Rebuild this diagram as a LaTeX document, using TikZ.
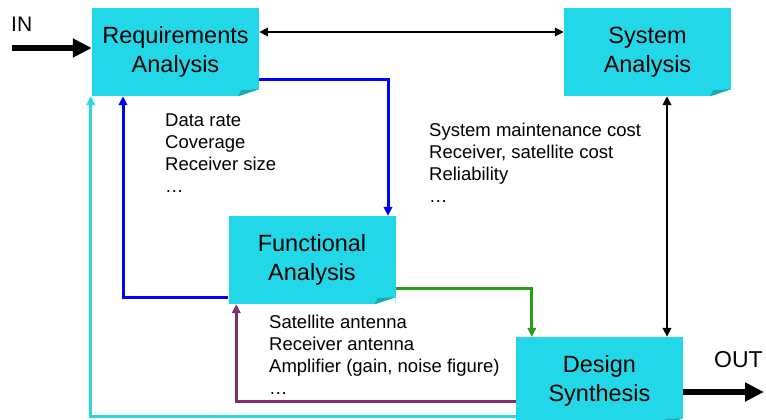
\documentclass[tikz,border=0pt]{standalone}
\usepackage{fontspec}
\setmainfont{Liberation Sans}
\usetikzlibrary{arrows.meta}
\usetikzlibrary{calc}
\definecolor{boxcyan}{HTML}{22D8E8}
\definecolor{foldcyan}{HTML}{1BA9B6}
\definecolor{linecyan}{HTML}{2AD6E6}
\definecolor{plum}{HTML}{7E2F6F}
\definecolor{leaf}{HTML}{2A9D1A}

\begin{document}
\begin{tikzpicture}[x=1pt,y=-1pt,
    >={Triangle[length=9pt,width=8.5pt]},
    block/.style={fill=boxcyan, minimum width=167pt, minimum height=88pt, inner sep=0pt, align=center, font=\fontsize{23.5}{29}\selectfont},
    note/.style={anchor=north west, inner sep=0pt, align=left, font=\fontsize{18.5}{22}\selectfont},
    link/.style={->, line width=3pt},
    big/.style={line width=5.5pt, -{Triangle[length=19pt,width=18pt]}}]
        \useasboundingbox (0,0) rectangle (766,420);
        %%%BLOCKS%%%
        \node[block] (req) at (175.5,52) {Requirements\\Analysis};
        \node[block] (sys) at (647.5,52) {System\\Analysis};
        \node[block] (fun) at (312,260) {Functional\\Analysis};
        \node[block] (des) at (599.5,381) {Design\\Synthesis};
        %folded corners
        \fill[white] (req.south east) -- ($(req.south east)+(0,-7)$) -- ($(req.south east)+(-21,0)$) -- cycle;
        \fill[foldcyan] ($(req.south east)+(0,-7)$) -- ($(req.south east)+(-21,0)$) -- ($(req.south east)+(-18,-6)$) -- cycle;
        \fill[white] (sys.south east) -- ($(sys.south east)+(0,-7)$) -- ($(sys.south east)+(-21,0)$) -- cycle;
        \fill[foldcyan] ($(sys.south east)+(0,-7)$) -- ($(sys.south east)+(-21,0)$) -- ($(sys.south east)+(-18,-6)$) -- cycle;
        \fill[white] (fun.south east) -- ($(fun.south east)+(0,-7)$) -- ($(fun.south east)+(-21,0)$) -- cycle;
        \fill[foldcyan] ($(fun.south east)+(0,-7)$) -- ($(fun.south east)+(-21,0)$) -- ($(fun.south east)+(-18,-6)$) -- cycle;
        \fill[white] (des.south east) -- ($(des.south east)+(0,-7)$) -- ($(des.south east)+(-21,0)$) -- cycle;
        \fill[foldcyan] ($(des.south east)+(0,-7)$) -- ($(des.south east)+(-21,0)$) -- ($(des.south east)+(-18,-6)$) -- cycle;
        %notes
        \node[note] (reqnote) at (165,114) {Data rate\\Coverage\\Receiver size\\…};
        \node[note] (sysnote) at (429,123) {System maintenance cost\\Receiver, satellite cost\\Reliability\\…};
        \node[note] (funnote) at (269,315) {Satellite antenna\\Receiver antenna\\Amplifier (gain, noise figure)\\…};
        \node[anchor=west, inner sep=0pt, font=\fontsize{21}{25}\selectfont] (inlabel) at (11,24) {IN};
        \node[anchor=west, inner sep=0pt, font=\fontsize{23}{27}\selectfont] (outlabel) at (714,360) {OUT};
        %links
        \draw[<->, line width=2.5pt] ([yshift=20pt]req.east) -- ([yshift=20pt]sys.west);
        \coordinate (sysdown) at ([xshift=19.5pt]sys.south);
        \draw[<->, line width=2.5pt] (sysdown) -- (sysdown |- des.north);
        \draw[link, blue] ([yshift=-28pt]req.east) -| ([xshift=76pt]fun.north);
        \draw[link, blue] ([yshift=-37pt]fun.west) -| ([xshift=-52.5pt]req.south);
        \draw[link, leaf] ([yshift=-28pt]fun.east) -| ([xshift=16pt]des.north west);
        \draw[link, plum] ([yshift=-20pt]des.west) -| ([xshift=8pt]fun.south west);
        \draw[link, linecyan] ([yshift=-35pt]des.west) -| ([xshift=-1pt]req.south west);
        %in and out
        \coordinate (instart) at (12,48);
        \coordinate (outend) at (764,392);
        \draw[big] (instart) -- (instart -| req.west);
        \draw[big] (des.east |- outend) -- (outend);
    \end{tikzpicture}
\end{document}
